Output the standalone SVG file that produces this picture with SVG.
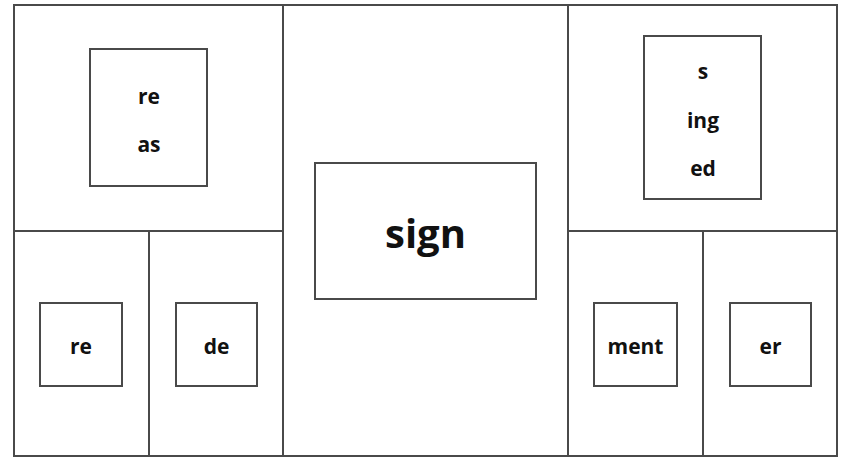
<svg xmlns="http://www.w3.org/2000/svg" width="841" height="458" viewBox="0 0 841 458">
  <style>
    .frame { fill: none; stroke: #4a4a4a; stroke-width: 2; }
    .box { fill: #ffffff; stroke: #4a4a4a; stroke-width: 2; }
    .lbl { font-family: "Open Sans", "Noto Sans", "DejaVu Sans", sans-serif; font-weight: bold; font-size: 21px; fill: #111111; text-anchor: middle; }
    .big { font-size: 40px; }
  </style>
  <rect width="841" height="458" fill="#ffffff"/>

  <!-- outer frame and panel dividers -->
  <g id="grid" class="frame">
    <rect x="14" y="5" width="823" height="451"/>
    <line x1="283" y1="5" x2="283" y2="456"/>
    <line x1="568" y1="5" x2="568" y2="456"/>
    <line x1="14" y1="231" x2="283" y2="231"/>
    <line x1="568" y1="231" x2="837" y2="231"/>
    <line x1="149" y1="231" x2="149" y2="456"/>
    <line x1="703" y1="231" x2="703" y2="456"/>
  </g>

  <g id="prefix-top">
    <rect class="box" x="90" y="49" width="117" height="137"/>
    <text class="lbl" x="149" y="104">re</text>
    <text class="lbl" x="149" y="152">as</text>
  </g>

  <g id="root">
    <rect class="box" x="315" y="163" width="221" height="136"/>
    <text class="lbl big" x="425.5" y="248">sign</text>
  </g>

  <g id="suffix-top">
    <rect class="box" x="644" y="36" width="117" height="163"/>
    <text class="lbl" x="703" y="79">s</text>
    <text class="lbl" x="703" y="128">ing</text>
    <text class="lbl" x="703" y="176">ed</text>
  </g>

  <g id="prefix-re">
    <rect class="box" x="40" y="303" width="82" height="83"/>
    <text class="lbl" x="81" y="354">re</text>
  </g>

  <g id="prefix-de">
    <rect class="box" x="176" y="303" width="81" height="83"/>
    <text class="lbl" x="216.5" y="354">de</text>
  </g>

  <g id="suffix-ment">
    <rect class="box" x="594" y="303" width="83" height="83"/>
    <text class="lbl" x="635.5" y="354">ment</text>
  </g>

  <g id="suffix-er">
    <rect class="box" x="730" y="303" width="81" height="83"/>
    <text class="lbl" x="770.5" y="354">er</text>
  </g>

  <g id="connectors"/>
</svg>
